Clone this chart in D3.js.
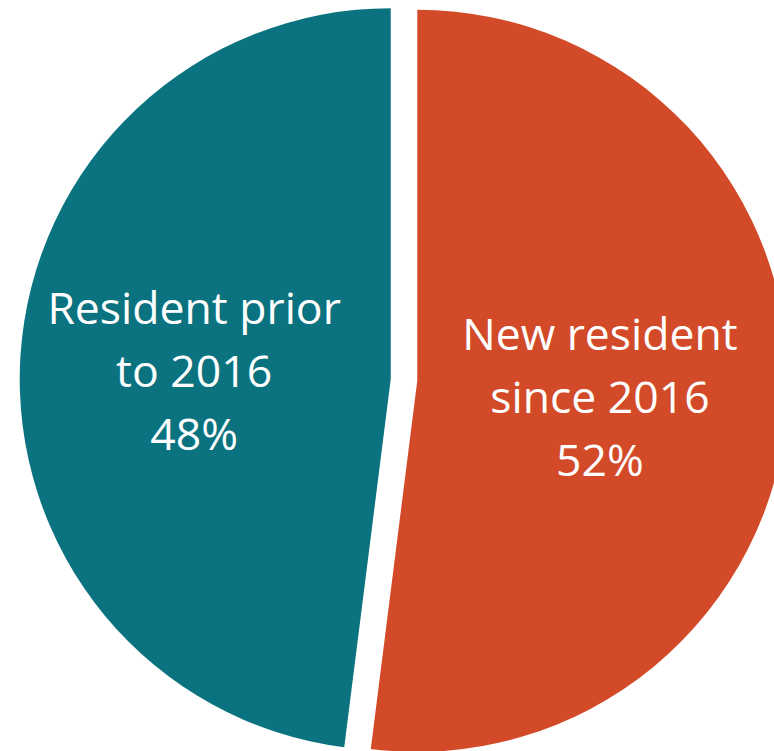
<!DOCTYPE html>
<html>
<head>
<meta charset="utf-8">
<script src="https://cdn.jsdelivr.net/npm/d3@7"></script>
<style>
  body { margin: 0; background: #fff; }
  svg { display: block; }
</style>
</head>
<body>
<div id="container"></div>
<script>
// data
var categories = ["New resident since 2016", "Resident prior to 2016"];
var labelLines = [["New resident", "since 2016"], ["Resident prior", "to 2016"]];
var values = [52, 48];
var colors = ["#d34a28", "#0b7380"];

// parameters
var width = 774,
    height = 751,
    cx = 404,
    cy = 380,
    radius = 371,
    explode = 13.3,
    labelRadius = 190,
    labelShiftX = -7,
    labelShiftY = 4,
    fontSize = 44.5,
    lineHeight = 63;

var svg = d3.select("#container")
    .append("svg")
    .attr("width", width)
    .attr("height", height);

var pie = d3.pie().sort(null).value(function (d) { return d.value; });
var arc = d3.arc().innerRadius(0).outerRadius(radius);

var data = categories.map(function (c, i) {
    return { name: c, lines: labelLines[i], value: values[i], color: colors[i] };
});

var slices = pie(data);

function offset(d, dist) {
    var a = (d.startAngle + d.endAngle) / 2;
    return [Math.sin(a) * dist, -Math.cos(a) * dist];
}

var g = svg.append("g")
    .attr("transform", "translate(" + cx + "," + cy + ")");

var slice = g.selectAll("g.slice")
    .data(slices)
    .enter()
    .append("g")
    .attr("class", "slice")
    .attr("transform", function (d) {
        var o = offset(d, explode);
        return "translate(" + o[0] + "," + o[1] + ")";
    });

slice.append("path")
    .attr("d", arc)
    .attr("fill", function (d) { return d.data.color; });

// labels: middle line centred on the label point
var labels = slice.append("text")
    .attr("text-anchor", "middle")
    .attr("fill", "#ffffff")
    .style("font-family", "'Open Sans', 'Noto Sans', sans-serif")
    .style("font-size", fontSize + "px")
    .attr("transform", function (d) {
        var o = offset(d, labelRadius);
        return "translate(" + (o[0] + labelShiftX) + "," + (o[1] + labelShiftY) + ")";
    });

labels.each(function (d) {
    var t = d3.select(this);
    var total = d3.sum(values);
    var lines = d.data.lines.concat([Math.round(d.data.value / total * 100) + "%"]);
    var capHalf = fontSize * 0.357;
    lines.forEach(function (l, i) {
        t.append("tspan")
            .attr("x", 0)
            .attr("y", (i - 1) * lineHeight + capHalf)
            .text(l);
    });
});
</script>
</body>
</html>
